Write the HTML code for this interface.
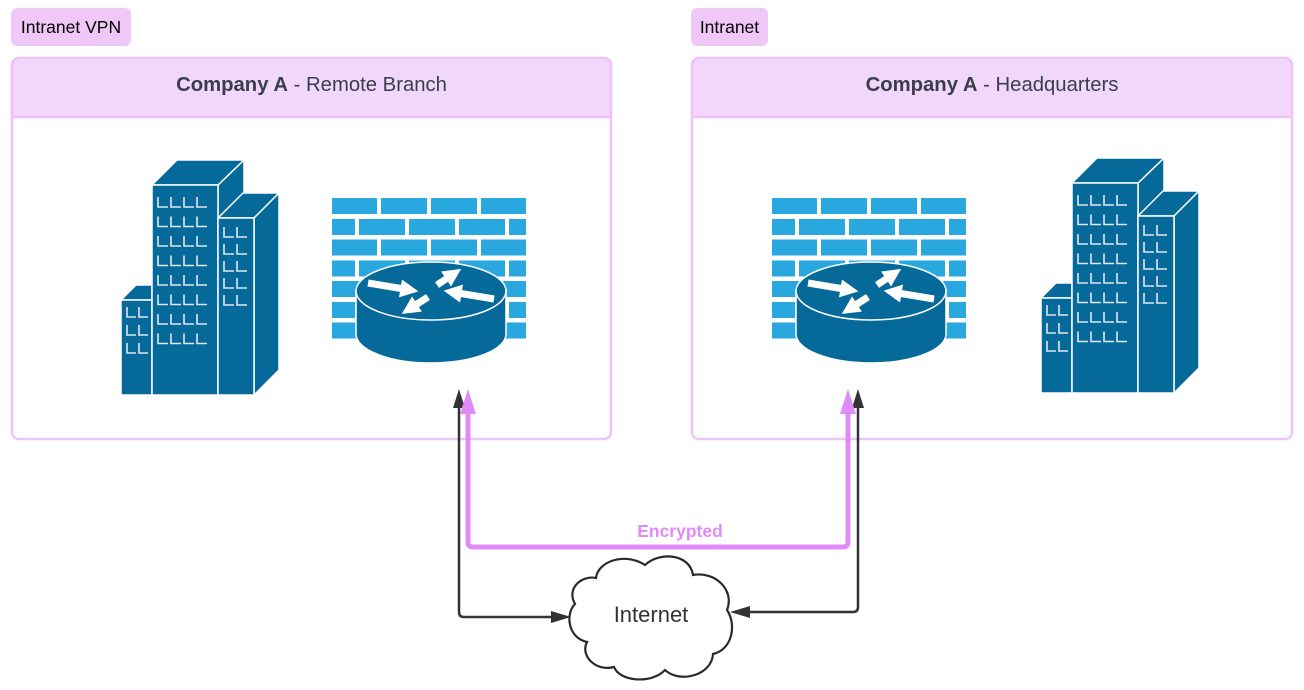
<!DOCTYPE html>
<html><head><meta charset="utf-8"><style>
html,body{margin:0;padding:0;background:#fff;}
svg{display:block;}
</style></head><body>
<svg width="1304" height="690" viewBox="0 0 1304 690" xmlns="http://www.w3.org/2000/svg" font-family="Liberation Sans, sans-serif">
<defs>
<marker id="wh" viewBox="0 0 10 10" refX="2" refY="5" markerWidth="2.6" markerHeight="2.6" orient="auto"><path d="M0,0 L10,5 L0,10 z" fill="#fff"/></marker>
<g id="bld">
  <g fill="#05699a" stroke="#fff" stroke-width="1.5" stroke-linejoin="round">
    <polygon points="121,300 136,285 152,285 152,300"/>
    <rect x="121" y="300" width="31" height="95"/>
    <polygon points="218,185 244,160 244,193 218,218"/>
    <polygon points="152,185 177,160 244,160 218,185"/>
    <rect x="152" y="185" width="66" height="210"/>
    <polygon points="218,218 243,193 279,193 254,218"/>
    <polygon points="254,218 279,193 279,370 254,395"/>
    <rect x="218" y="218" width="36" height="177"/>
  </g>
  <g fill="none" stroke="#dfe8ee" stroke-width="1.6">
    <path id="r8" d="M158,197v10h10 M171,197v10h10 M184,197v10h10 M197,197v10h10"/>
    <use href="#r8" y="19.5"/><use href="#r8" y="39"/><use href="#r8" y="58.5"/><use href="#r8" y="78"/><use href="#r8" y="97.5"/><use href="#r8" y="117"/><use href="#r8" y="136.5"/>
    <path id="rr" d="M224,227v10h10 M237,227v10h10"/>
    <use href="#rr" y="17"/><use href="#rr" y="34"/><use href="#rr" y="51"/><use href="#rr" y="68"/>
    <path id="rs" d="M127,307v10h9 M139,307v10h9"/>
    <use href="#rs" y="18"/><use href="#rs" y="36"/>
  </g>
</g>
<g id="fw">
  <g fill="#29a8e0">
    <g id="ro"><rect x="332" y="198" width="45" height="16"/><rect x="381" y="198" width="46" height="16"/><rect x="431" y="198" width="46" height="16"/><rect x="481" y="198" width="45" height="16"/></g>
    <g id="re"><rect x="332" y="219" width="23" height="16"/><rect x="359" y="219" width="46" height="16"/><rect x="409" y="219" width="46" height="16"/><rect x="459" y="219" width="46" height="16"/><rect x="509" y="219" width="17" height="16"/></g>
    <use href="#ro" y="41.5"/><use href="#re" y="41.5"/><use href="#ro" y="83"/><use href="#re" y="83"/><use href="#ro" y="124.5"/>
  </g>
  <g stroke="#fff" stroke-width="1.5" fill="#05699a">
    <path d="M356,291 L356,334 A75,29 0 0 0 506,334 L506,291 z"/>
    <ellipse cx="431" cy="291" rx="75" ry="29"/>
  </g>
  <g stroke="#fff" stroke-width="7" marker-end="url(#wh)">
    <line x1="368" y1="283" x2="404" y2="289"/>
    <line x1="437" y1="285" x2="449" y2="277"/>
    <line x1="494" y1="299" x2="458" y2="293"/>
    <line x1="428" y1="297" x2="414" y2="306"/>
  </g>
</g>
</defs>

<!-- tags -->
<rect x="11" y="8" width="120" height="38" rx="6" fill="#f0c8f8"/>
<text x="71" y="33" font-size="17.5" text-anchor="middle" fill="#000">Intranet VPN</text>
<rect x="691" y="8" width="77" height="38" rx="6" fill="#f0c8f8"/>
<text x="729.5" y="33" font-size="17.5" text-anchor="middle" fill="#000">Intranet</text>

<!-- containers -->
<g stroke="#ecc4f6" stroke-width="2.5">
<rect x="12" y="58" width="599" height="381" rx="7" fill="#fff"/>
<path d="M12,117 V65 a7,7 0 0 1 7,-7 H604 a7,7 0 0 1 7,7 V117 z" fill="#f2d7fc"/>
<rect x="692" y="58" width="600" height="381" rx="7" fill="none"/>
<path d="M692,117 V65 a7,7 0 0 1 7,-7 H1285 a7,7 0 0 1 7,7 V117 z" fill="#f2d7fc"/>
</g>
<text x="311.5" y="91" font-size="20.3" text-anchor="middle" fill="#3a3d4a"><tspan font-weight="bold">Company A</tspan> - Remote Branch</text>
<text x="992" y="91" font-size="20.3" text-anchor="middle" fill="#3a3d4a"><tspan font-weight="bold">Company A</tspan> - Headquarters</text>

<use href="#bld"/>
<use href="#fw"/>
<use href="#fw" x="440"/>
<use href="#bld" x="920" y="-2"/>

<!-- connectors -->
<g fill="none" stroke="#333" stroke-width="2.5" stroke-linejoin="round">
<path d="M459,405 V612 q0,5 5,5 H558"/>
<path d="M858,405 V607 q0,5 -5,5 H745"/>
</g>
<g fill="#333">
<polygon points="459,389 453,408 465,408"/>
<polygon points="858,389 852,408 864,408"/>
<polygon points="571,617 551,611 551,623"/>
<polygon points="730,612 750,606 750,618"/>
</g>
<path d="M468,405 V542 q0,5 5,5 H843 q5,0 5,-5 V405" fill="none" stroke="#e08cf8" stroke-width="5"/>
<polygon points="468,389 460,414 476,414" fill="#e08cf8"/>
<polygon points="848,389 840,414 856,414" fill="#e08cf8"/>
<text x="680" y="537" font-size="17.5" font-weight="bold" text-anchor="middle" fill="#e08cf8">Encrypted</text>

<!-- cloud -->
<path d="M596,578 C598,561 625,552 645,565 C660,551 690,554 693,575 C715,571 735,590 727,610 C737,625 732,650 713,654 C712,675 680,684 665,670 C652,684 620,682 614,667 C595,672 580,655 587,642 C568,638 565,614 575,604 C566,588 582,575 596,578 Z" fill="#fff" stroke="#2a2a2a" stroke-width="2.2"/>
<text x="651" y="622" font-size="22" text-anchor="middle" fill="#333">Internet</text>
</svg>
</body></html>
